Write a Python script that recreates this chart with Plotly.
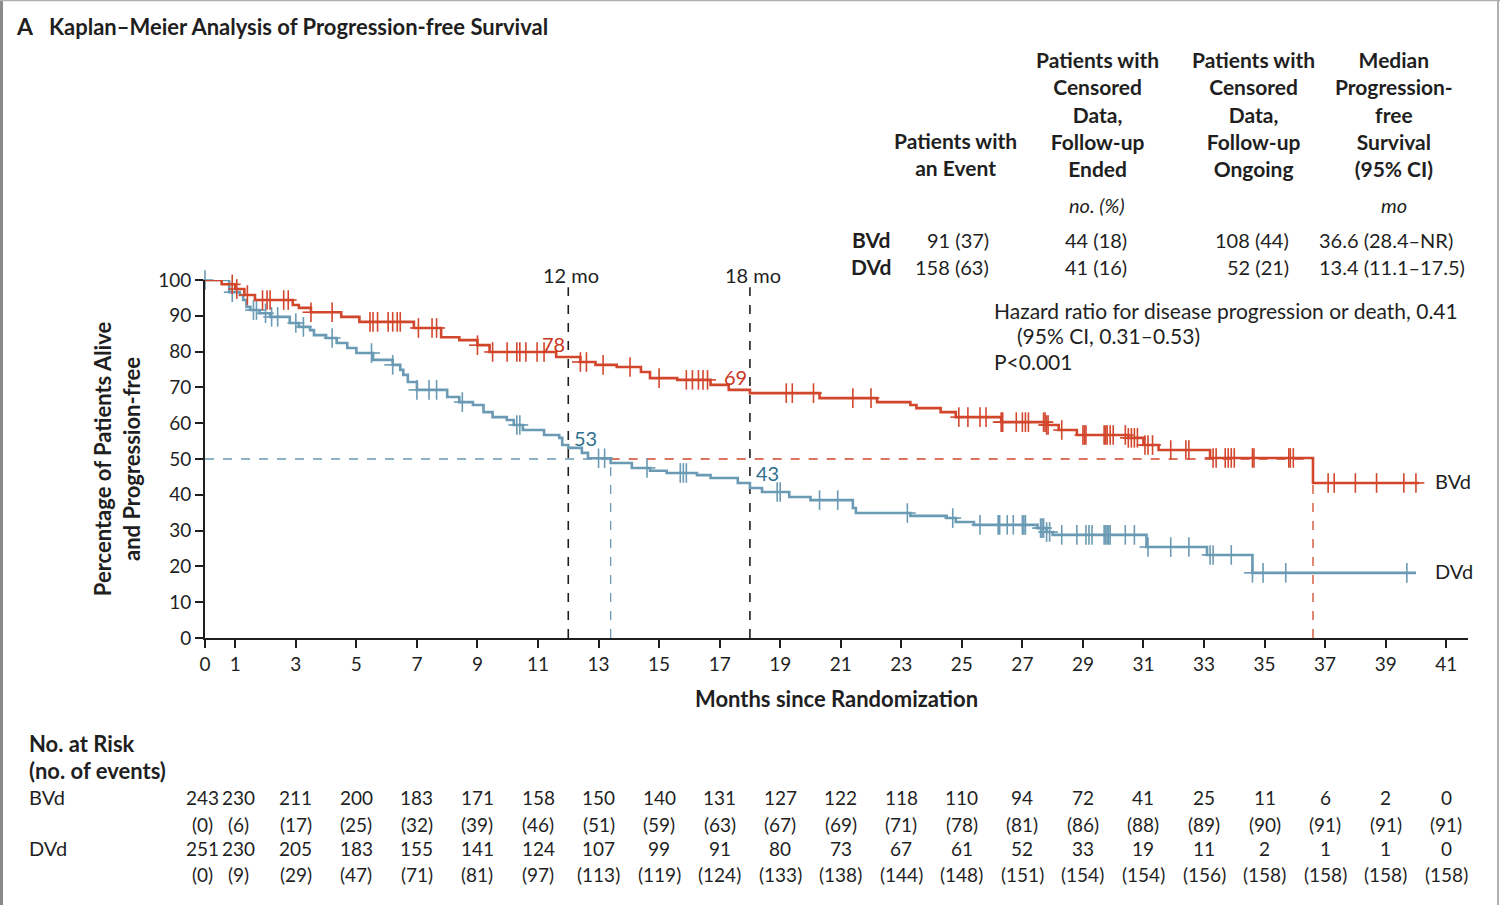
import numpy as np
import plotly.graph_objects as go

# ---------------- data ----------------
bvd_t = [0, 0.55, 1.0, 1.3, 1.65, 2.9, 3.1, 3.5, 4.5, 5.1, 6.9, 7.8, 8.4, 9.0, 9.4, 11.6, 12.4, 12.9,
         13.6, 14.4, 14.7, 15.6, 16.7, 17.3, 18.0, 20.3, 22.2, 23.3, 23.5, 24.3, 24.8, 26.3, 27.8, 28.2,
         28.8, 30.5, 31.0, 31.5, 33.2, 36.6, 40.1]
bvd_s = [100, 98.8, 97.5, 95.8, 94.4, 93.0, 92.2, 91.0, 89.7, 88.3, 86.6, 84.0, 83.2, 81.8, 79.9, 78.5, 77.1, 76.3,
         75.7, 74.3, 72.6, 72.1, 70.7, 69.3, 68.4, 67.0, 65.9, 65.1, 64.2, 63.1, 61.7, 60.3, 59.5, 58.1,
         56.7, 55.9, 53.9, 52.5, 50.3, 43.3, 43.3]
bvd_cens = [0.9, 1.05, 1.4, 1.9, 2.05, 2.15, 2.6, 2.75, 3.5, 4.2, 5.45, 5.55, 5.7, 6.05, 6.2, 6.35, 6.45,
            7.05, 7.5, 7.65, 9.0, 9.5, 9.98, 10.3, 10.4, 10.6, 10.97, 11.2, 12.4, 12.6, 13.15, 14.04, 15.0,
            15.9, 16.1, 16.3, 16.45, 16.6, 19.2, 19.4, 20.1, 21.4, 22.0, 24.9, 25.2, 25.6, 25.8, 26.3, 26.35,
            26.8, 27.0, 27.1, 27.2, 27.7, 27.75, 27.8, 27.85, 28.3, 29.0, 29.05, 29.1, 29.7, 29.75, 29.8, 29.9,
            30.0, 30.4, 30.5, 30.6, 30.7, 30.8, 31.05, 31.15, 31.3, 31.9, 32.4, 32.5, 33.3, 33.4, 33.7, 33.8,
            33.9, 34.0, 34.6, 34.65, 35.8, 35.85, 35.95, 37.1, 37.3, 38.0, 38.7, 39.6, 40.0]

dvd_t = [0, 0.8, 1.15, 1.26, 1.37, 1.5, 1.8, 2.15, 2.8, 3.1, 3.47, 3.6, 4.0, 4.35, 4.7, 5.0, 5.55, 6.2,
         6.45, 6.55, 6.7, 7.0, 8.0, 8.4, 8.85, 9.2, 9.5, 9.97, 10.2, 10.5, 11.2, 11.7, 11.8, 12.0, 12.45,
         12.65, 13.4, 14.1, 14.7, 15.25, 16.25, 16.7, 17.6, 18.0, 18.4, 19.3, 20.0, 21.4, 21.5, 23.3, 24.5,
         24.8, 25.4, 27.5, 27.8, 28.0, 31.1, 33.1, 34.6, 40.0]
dvd_s = [100, 96.6, 95.8, 94.4, 92.5, 91.6, 90.7, 89.7, 88.0, 86.9, 86.0, 84.6, 83.8, 82.4, 81.0, 79.6, 77.7, 76.3,
         74.9, 73.5, 71.5, 69.3, 67.3, 65.9, 65.1, 63.1, 61.7, 60.9, 59.5, 58.1, 56.7, 55.9, 53.9, 53.1, 51.7,
         50.2, 48.9, 47.5, 46.7, 46.1, 45.5, 44.7, 43.3, 41.9, 40.8, 39.4, 38.5, 36.3, 34.9, 34.1, 33.5,
         32.4, 31.6, 30.7, 29.6, 28.8, 25.4, 23.2, 18.2, 18.2]
dvd_cens = [0.0, 0.9, 1.6, 1.7, 2.0, 2.2, 2.4, 3.0, 3.25, 4.2, 5.5, 6.2, 7.0, 7.4, 7.65, 8.5, 10.3, 10.4,
            13.0, 13.2, 14.6, 15.7, 15.8, 15.9, 18.9, 19.0, 20.3, 20.9, 23.2, 24.7, 25.6, 26.2, 26.25, 26.5,
            26.7, 27.0, 27.05, 27.1, 27.6, 27.65, 27.7, 27.8, 27.9, 28.3, 28.8, 29.1, 29.2, 29.3, 29.7, 29.75,
            29.8, 29.85, 29.9, 30.4, 30.7, 31.15, 31.9, 32.5, 33.2, 33.3, 33.9, 34.6, 34.95, 35.7, 39.7]

medians = {"BVd": 36.6, "DVd": 13.4}
landmarks = [12, 18]
landmark_labels = ["12 mo", "18 mo"]
landmark_bvd = ["78", "69"]
landmark_dvd = ["53", "43"]

x_ticks = [0, 1, 3, 5, 7, 9, 11, 13, 15, 17, 19, 21, 23, 25, 27, 29, 31, 33, 35, 37, 39, 41]
y_ticks = [0, 10, 20, 30, 40, 50, 60, 70, 80, 90, 100]

risk_times = x_ticks
bvd_risk = [243, 230, 211, 200, 183, 171, 158, 150, 140, 131, 127, 122, 118, 110, 94, 72, 41, 25, 11, 6, 2, 0]
bvd_events = [0, 6, 17, 25, 32, 39, 46, 51, 59, 63, 67, 69, 71, 78, 81, 86, 88, 89, 90, 91, 91, 91]
dvd_risk = [251, 230, 205, 183, 155, 141, 124, 107, 99, 91, 80, 73, 67, 61, 52, 33, 19, 11, 2, 1, 1, 0]
dvd_events = [0, 9, 29, 47, 71, 81, 97, 113, 119, 124, 133, 138, 144, 148, 151, 154, 154, 156, 158, 158, 158, 158]

tbl_groups = ["BVd", "DVd"]
tbl_event = ["91 (37)", "158 (63)"]
tbl_cens_ended = ["44 (18)", "41 (16)"]
tbl_cens_ongoing = ["108 (44)", "52 (21)"]
tbl_median = ["36.6 (28.4–NR)", "13.4 (11.1–17.5)"]
hr_lines = ["Hazard ratio for disease progression or death, 0.41", "(95% CI, 0.31–0.53)", "P<0.001"]

# ---------------- style ----------------
RED = "#D2462C"
BLUE = "#6A9AB4"
RED_TXT = "#C9361F"
BLUE_TXT = "#2F6F8F"
INK = "#1f1f1f"
FONT = "Lato, 'Open Sans', sans-serif"

W, H = 1500, 905
L, R, T, B = 205, 32, 280, 267
PW, PH = W - L - R, H - T - B


def X(px):
    return (px - L) / PW


def Y(py):
    return (H - B - py) / PH


def step_val(times, vals, t):
    idx = np.searchsorted(np.array(times), np.array(t), side="right") - 1
    return np.array(vals)[idx]


fig = go.Figure()

# median reference lines
fig.add_trace(go.Scatter(x=[0, medians["DVd"]], y=[50, 50], mode="lines",
                         line=dict(color=BLUE, width=1.3, dash="dash"), hoverinfo="skip", showlegend=False))
fig.add_trace(go.Scatter(x=[medians["DVd"], medians["DVd"]], y=[0, 50], mode="lines",
                         line=dict(color=BLUE, width=1.3, dash="dash"), hoverinfo="skip", showlegend=False))
fig.add_trace(go.Scatter(x=[medians["DVd"], medians["BVd"]], y=[50, 50], mode="lines",
                         line=dict(color=RED, width=1.3, dash="dash"), hoverinfo="skip", showlegend=False))
fig.add_trace(go.Scatter(x=[medians["BVd"], medians["BVd"]], y=[0, 50.3], mode="lines",
                         line=dict(color=RED, width=1.3, dash="dash"), hoverinfo="skip", showlegend=False))
for lm in landmarks:
    fig.add_trace(go.Scatter(x=[lm, lm], y=[0, 98], mode="lines",
                             line=dict(color=INK, width=1.6, dash="dash"), hoverinfo="skip", showlegend=False))

# curves
for t, s, c, col in [(dvd_t, dvd_s, dvd_cens, BLUE), (bvd_t, bvd_s, bvd_cens, RED)]:
    fig.add_trace(go.Scatter(x=t, y=s, mode="lines", line=dict(color=col, width=2.6, shape="hv"),
                             cliponaxis=False, showlegend=False))
    fig.add_trace(go.Scatter(x=c, y=step_val(t, s, c), mode="markers",
                             marker=dict(symbol="line-ns", size=14, line=dict(color=col, width=1.6)),
                             cliponaxis=False, showlegend=False))
    fig.add_trace(go.Scatter(x=c, y=step_val(t, s, c), mode="markers",
                             marker=dict(symbol="line-ew", size=12, line=dict(color=col, width=1.6)),
                             cliponaxis=False, showlegend=False))

ann = []


def A(x, y, text, xref="paper", yref="paper", xanchor="center", yanchor="middle", size=19, color=INK, **kw):
    d = dict(x=x, y=y, xref=xref, yref=yref, text=text, showarrow=False, xanchor=xanchor,
             yanchor=yanchor, font=dict(size=size, color=color, family=FONT))
    d.update(kw)
    ann.append(d)


# landmark labels
for lm, lab, vb, vd in zip(landmarks, landmark_labels, landmark_bvd, landmark_dvd):
    A(lm, Y(275), lab, xref="x", xshift=3, size=20)
    A(lm, float(vb) + 4.0, vb, xref="x", yref="y", xanchor="right", xshift=-1, color=RED_TXT, size=20)
    A(lm, float(vd) + 3.0, vd, xref="x", yref="y", xanchor="left", xshift=4, color=BLUE_TXT, size=20)

A(X(1433), Y(481), "BVd", xanchor="left", size=20)
A(X(1433), Y(571), "DVd", xanchor="left", size=20)

# title
A(X(14), Y(26), "<b>A</b>", xanchor="left", size=23)
A(X(47), Y(27), "<b>Kaplan–Meier Analysis of Progression-free Survival</b>", xanchor="left", size=22)

# summary table headers
headers = [("Patients with<br>an Event", 955, 154),
           ("Patients with<br>Censored<br>Data,<br>Follow-up<br>Ended", 1097, 113.5),
           ("Patients with<br>Censored<br>Data,<br>Follow-up<br>Ongoing", 1253, 113.5),
           ("Median<br>Progression-<br>free<br>Survival<br>(95% CI)", 1394, 113.5)]
for txt, px, pyc in headers:
    A(X(px), Y(pyc), "<b>" + txt + "</b>", size=21, align="center")
A(X(1097), Y(205), "<i>no. (%)</i>", size=20)
A(X(1394), Y(205), "<i>mo</i>", size=20)
for i, g in enumerate(tbl_groups):
    ry = Y(240 + i * 27)
    A(X(871), ry, "<b>" + g + "</b>", size=21)
    A(X(991), ry, tbl_event[i], xanchor="right", size=20)
    A(X(1129), ry, tbl_cens_ended[i], xanchor="right", size=20)
    A(X(1291), ry, tbl_cens_ongoing[i], xanchor="right", size=20)
    A(X(1317), ry, tbl_median[i], xanchor="left", size=20)

# hazard ratio
for txt, px, pyc in zip(hr_lines, [992, 1015, 992], [310, 335, 361]):
    A(X(px), Y(pyc), txt, xanchor="left", size=21)

# risk table
A(X(27), Y(743), "<b>No. at Risk</b>", xanchor="left", size=22)
A(X(27), Y(770), "<b>(no. of events)</b>", xanchor="left", size=22)
A(X(27), Y(797), "BVd", xanchor="left", size=20)
A(X(27), Y(848), "DVd", xanchor="left", size=20)
for rows, pyc in [(bvd_risk, 797), ([f"({e})" for e in bvd_events], 824),
                  (dvd_risk, 848), ([f"({e})" for e in dvd_events], 874)]:
    for k, (tt, v) in enumerate(zip(risk_times, rows)):
        shift = -3 if k == 0 else (3 if k == 1 else 0)
        A(tt, Y(pyc), str(v), xref="x", size=19, xshift=shift)

shapes = [
    dict(type="line", xref="paper", yref="paper", x0=X(1.5), x1=X(1.5), y0=Y(0), y1=Y(905),
         line=dict(color="#8a8a8a", width=3)),
    dict(type="line", xref="paper", yref="paper", x0=X(0), x1=X(1500), y0=Y(0.5), y1=Y(0.5),
         line=dict(color="#b0b0b0", width=1.5)),
    dict(type="line", xref="paper", yref="paper", x0=X(1498), x1=X(1498), y0=Y(0), y1=Y(905),
         line=dict(color="#b0b0b0", width=2)),
]

fig.update_layout(
    width=W, height=H,
    margin=dict(l=L, r=R, t=T, b=B, pad=0),
    paper_bgcolor="white", plot_bgcolor="white",
    font=dict(family=FONT, color=INK),
    showlegend=False,
    annotations=ann,
    shapes=shapes,
    xaxis=dict(range=[0, 41.72], tickvals=x_ticks, ticks="outside", ticklen=8, tickwidth=1.5,
               tickcolor=INK, showline=True, linecolor=INK, linewidth=1.6, showgrid=False, zeroline=False,
               tickfont=dict(size=19, color=INK),
               title=dict(text="<b>Months since Randomization</b>", font=dict(size=22, color=INK), standoff=18)),
    yaxis=dict(range=[0, 100], tickvals=y_ticks, ticks="outside", ticklen=8, tickwidth=1.5,
               tickcolor=INK, showline=True, linecolor=INK, linewidth=1.6, showgrid=False, zeroline=False,
               tickfont=dict(size=19, color=INK),
               title=dict(text="<b>Percentage of Patients Alive<br>and Progression-free</b>",
                          font=dict(size=22, color=INK), standoff=12)),
)

fig.write_html("out.html", config={"displayModeBar": False},
               post_script="document.body.style.margin='0';document.body.style.overflow='hidden';")
